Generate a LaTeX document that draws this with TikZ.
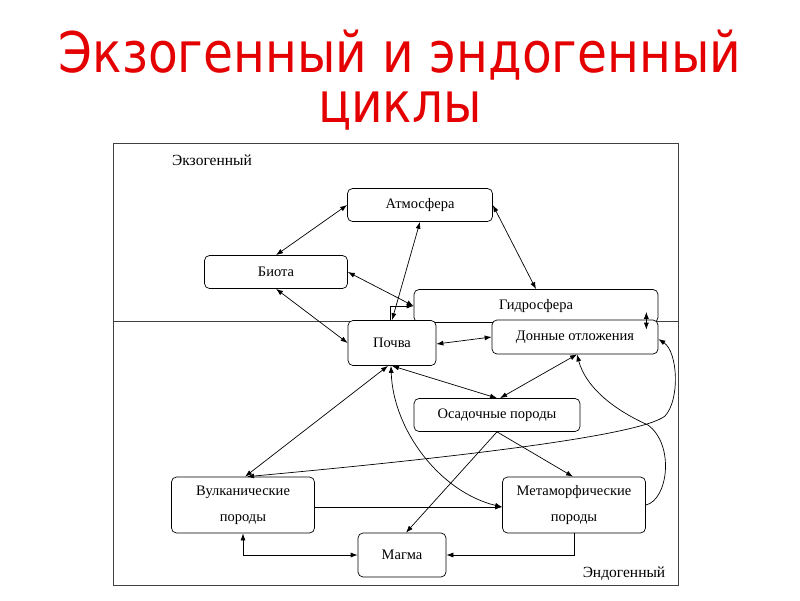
\documentclass[tikz,border=0pt]{standalone}
\usepackage{fontspec}
\setmainfont{Liberation Serif}
\newfontfamily\titlefont{DejaVu Sans}
\usetikzlibrary{arrows.meta}
\definecolor{titlered}{RGB}{228,0,0}

\begin{document}
\begin{tikzpicture}[x=1pt,y=-1pt,line width=0.7pt,>={Latex[length=7pt,width=5pt]},<->]
	\tikzstyle{box}=[draw,rounded corners=5pt,align=center,inner sep=0pt,font=\fontsize{14.5}{26}\selectfont]
	\tikzstyle{title}=[text=titlered,anchor=base,align=center,inner sep=0pt,xscale=0.87,transform shape,font=\titlefont\fontsize{56}{50}\selectfont]
	\tikzstyle{zone}=[font=\fontsize{15.5}{18}\selectfont]

	\useasboundingbox (0,0) rectangle (800,600);

	\node[title] (T) at (400,122) {Экзогенный и эндогенный\\циклы};

	% frame and border between the two cycles
	\draw[-,black!75] (113,143) rectangle (678,585);
	\draw[-,black!75] (113,321) -- (678,321);
	\node[zone] (exo) at (212,160) {Экзогенный};
	\node[zone] (endo) at (624,574) {Эндогенный};

	\foreach \name/\txt/\x/\y/\w/\h in {atm/Атмосфера/420/205/145/33, bio/Биота/276/272/143/33,
		hyd/Гидросфера/536/306/244/33, soil/Почва/392/343/88/45, sed/Донные отложения/575/337/166/34,
		osad/Осадочные породы/497/415/166/33, vulc/{Вулканические\\породы}/243/505/143/56,
		meta/{Метаморфические\\породы}/574/505/143/56, magma/Магма/402/555/88/44}
	\node[box,fill=white,minimum width=\w pt,minimum height=\h pt] (G-\name) at (\x,\y) {\txt};

	\foreach \from/\to in {atm.west/bio.north, atm.east/hyd.north, atm.south/soil.north,
		bio.east/hyd.west, bio.south/soil.west, soil.south/osad.north}
	\draw (G-\from) -- (G-\to);

	\draw ([yshift=-1pt]G-soil.east) -- (G-sed.west);
	\draw ([xshift=2pt]G-sed.south) -- ([xshift=3pt]G-osad.north);
	\draw ([xshift=-4pt]G-soil.south) -- ([xshift=2pt]G-vulc.north);
	\draw ([xshift=-12pt,yshift=11pt]G-hyd.south east) -- ([xshift=-12pt,yshift=-10pt]G-sed.north east);
	\draw[->] ([xshift=-2pt]G-soil.north) |- (G-hyd.west);

	\draw[->] (G-osad.south) -- ([xshift=4pt]G-magma.north);
	\draw[->] (G-osad.south) -- ([xshift=-1pt]G-meta.north);
	\draw[->] ([yshift=-2pt]G-vulc.east) -- ([yshift=-2pt]G-meta.west);
	\draw (G-vulc.south) |- (G-magma.west);
	\draw[->] (G-meta.south) |- (G-magma.east);

	% curved links
	\draw ([xshift=-1pt]G-soil.south) .. controls (393,430) and (440,492) .. ([yshift=-2pt]G-meta.west);
	\draw ([xshift=4pt]G-vulc.north) .. controls (450,458) and (640,436) .. (665,416)
		.. controls (680,400) and (678,352) .. ([yshift=-2pt]G-sed.east);
	\draw[->] (G-meta.east) .. controls (668,500) and (675,445) .. (648,425)
		.. controls (610,408) and (585,385) .. ([xshift=2pt]G-sed.south);
\end{tikzpicture}
\end{document}
